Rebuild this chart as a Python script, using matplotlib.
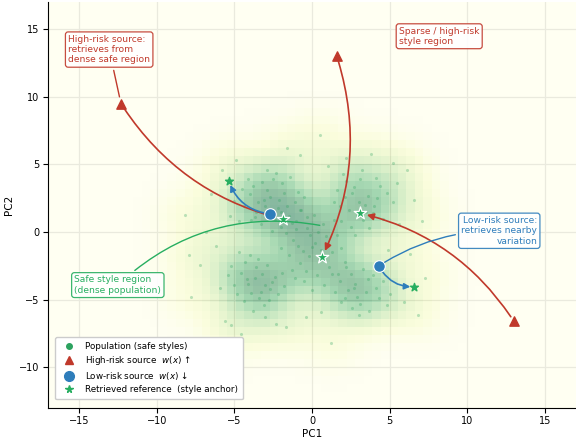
import numpy as np
import matplotlib
matplotlib.use("Agg")
import matplotlib.pyplot as plt
from matplotlib.lines import Line2D

# population (safe styles)
pop_pts = [
    # upper-left blob
    (-3.1, 2.4), (-2.2, 1.8), (-1.8, 2.9), (-3.6, 1.5), (-2.9, 3.1), (-1.5, 1.2), (-4.0, 2.8), (-2.4, 0.9),
    (-3.3, 0.6), (-1.1, 2.2), (-2.7, 2.6), (-4.4, 1.9), (-1.9, 3.6), (-3.8, 3.4), (-2.0, 0.4), (-0.8, 1.6),
    (-3.0, 1.9), (-2.5, 3.9), (-4.7, 0.8), (-1.3, 0.7), (-3.5, 2.2), (-2.1, 2.4), (-0.9, 3.0), (-4.1, 3.9),
    (-2.8, 1.2), (-1.6, 1.9), (-3.9, 0.9), (-2.3, 4.4), (-5.0, 2.3), (-1.0, 0.2), (-3.2, 3.7), (-0.5, 2.6),
    (-4.5, 3.2), (-2.6, 0.1), (-1.4, 4.1), (-3.7, 1.1), (-0.3, 1.1), (-5.3, 1.2), (-2.0, 1.5), (-2.9, 4.6),
    # lower-left blob
    (-3.2, -3.1), (-4.1, -3.8), (-3.6, -2.6), (-2.7, -4.2), (-4.6, -3.0), (-3.0, -3.9), (-3.9, -4.5), (-2.4, -3.3),
    (-4.3, -2.2), (-3.4, -4.9), (-5.0, -3.9), (-2.9, -2.4), (-3.7, -3.4), (-4.8, -4.6), (-2.2, -4.6), (-3.1, -5.4),
    (-4.0, -1.7), (-5.4, -3.2), (-2.6, -3.7), (-3.5, -2.0), (-4.4, -5.1), (-1.9, -3.0), (-3.8, -5.8), (-5.2, -2.5),
    (-2.8, -5.0), (-4.2, -3.5), (-3.3, -4.4), (-1.8, -4.0), (-4.7, -1.5), (-3.0, -6.3),
    # centre blob
    (0.2, -0.8), (-0.6, -1.4), (0.9, -0.3), (-0.3, 0.3), (0.5, -2.0), (-1.2, -0.6), (1.3, -1.5), (-0.8, -2.3),
    (0.0, -1.1), (0.7, 0.6), (-1.5, -1.7), (1.6, -0.2), (-0.4, -2.9), (0.3, -3.2), (-1.0, 0.8), (1.1, -2.6),
    (-0.1, -0.2), (1.9, -1.2), (-1.7, -0.1), (0.6, -1.3), (-0.9, -1.0), (0.1, 1.3), (1.4, 0.9), (-0.5, -3.6),
    (0.8, -3.9), (-1.3, -2.8), (2.1, -2.2), (-0.2, -1.8), (1.0, -0.9), (-2.0, -1.2), (0.4, 0.0), (-0.7, 1.6),
    (1.7, -3.1), (0.0, -4.3), (-1.1, -3.4),
    # right-upper blob
    (3.0, 2.2), (2.4, 1.6), (3.6, 2.7), (2.7, 3.3), (3.9, 1.4), (2.1, 2.6), (3.3, 0.9), (4.2, 2.5),
    (2.5, 0.4), (3.1, 3.9), (1.8, 1.9), (4.4, 3.4), (2.9, 1.2), (3.7, 0.3), (2.2, 3.8), (4.0, 1.9),
    (1.6, 3.1), (3.4, 2.0), (2.6, 2.9), (4.6, 1.0), (1.9, 0.8), (3.2, 4.6), (4.8, 2.9), (2.0, 4.3),
    (5.2, 2.2), (3.5, 1.5), (1.4, 2.2), (2.8, -0.2), (4.1, 4.0), (5.5, 3.6),
    # right-lower blob
    (2.8, -3.8), (3.5, -4.4), (2.1, -4.9), (3.9, -3.2), (2.5, -3.1), (4.3, -4.9), (3.1, -5.3), (1.8, -3.6),
    (3.7, -5.8), (2.3, -4.3), (4.6, -3.6), (2.9, -4.8), (1.5, -4.4), (3.3, -2.7), (4.1, -4.1), (2.6, -5.6),
    (5.0, -4.6), (1.9, -5.2), (3.6, -3.5), (2.2, -2.6), (4.8, -5.4), (3.0, -6.1), (1.3, -3.1), (4.4, -2.9),
    (2.7, -4.1),
    # stragglers
    (-7.8, -4.8), (-5.6, -6.6), (-5.2, -6.9), (-8.2, 1.3), (-6.5, 2.8), (-5.8, 4.6), (-6.2, -1.0), (-4.9, 5.3),
    (-1.6, 6.2), (0.5, 7.2), (-0.8, 5.7), (2.2, 5.5), (3.8, 5.8), (6.1, 4.6), (6.6, 2.4), (7.1, 0.8),
    (6.3, -1.6), (5.9, -5.2), (6.8, -6.1), (1.2, -8.2), (-1.7, -7.0), (-2.3, -6.8), (-7.2, -2.4), (5.6, 0.6),
    (0.6, -5.9), (-0.4, -6.3), (4.9, -1.3), (-6.8, 0.0), (7.3, -3.4), (-4.6, -7.5), (5.2, 5.1), (1.0, 4.9),
    (-5.9, -4.1), (-7.9, -1.7),
]
pop_x = [p[0] for p in pop_pts]
pop_y = [p[1] for p in pop_pts]

# high-risk sources and where they retrieve from
high_x = [-12.3, 1.6, 13.0]
high_y = [9.5, 13.0, -6.6]
high_ref_x = [-1.85, 0.64, 3.1]
high_ref_y = [0.96, -1.85, 1.4]
high_rad = [0.2, -0.2, 0.2]

# low-risk sources and their nearby retrievals
low_x = [-2.68, 4.3]
low_y = [1.33, -2.5]
low_ref_x = [-5.36, 6.6]
low_ref_y = [3.77, -4.05]
low_rad = [-0.3, 0.3]

RED = "#c0392b"
BLUE = "#2e7dbb"
GREEN = "#27ae60"

fig = plt.figure(figsize=(5.76, 4.41), dpi=100)
ax = fig.add_axes([0.0833, 0.075, 0.9167, 0.92])
ax.set_xlim(-17, 17)
ax.set_ylim(-13, 17)

# density background from the population (gaussian kde on a coarse grid)
gx = np.linspace(-17, 17, 63)
gy = np.linspace(-13, 17, 51)
cx = (gx[:-1] + gx[1:]) / 2
cy = (gy[:-1] + gy[1:]) / 2
XX, YY = np.meshgrid(cx, cy)
px = np.array(pop_x)
py = np.array(pop_y)
bw = 1.15
dens = np.exp(-((XX[..., None] - px) ** 2 + (YY[..., None] - py) ** 2) / (2 * bw ** 2)).sum(-1)
dens = dens ** 0.75
ax.grid(True, color="#d8d8d8", linewidth=0.9, zorder=0)
ax.set_axisbelow(True)
ax.imshow(dens, extent=(-17, 17, -13, 17), origin="lower", cmap="YlGn", alpha=0.48,
          aspect="auto", interpolation="nearest", zorder=1, vmin=0, vmax=dens.max() * 1.15)

ax.scatter(pop_x, pop_y, s=5, color="#2ca25f", alpha=0.3, linewidths=0, zorder=2)

# retrieval arrows
for i in range(3):
    ax.annotate("", xy=(high_ref_x[i], high_ref_y[i]), xytext=(high_x[i], high_y[i]),
                arrowprops=dict(arrowstyle="-|>", color=RED, lw=1.2, mutation_scale=10,
                                shrinkA=4, shrinkB=5, connectionstyle=f"arc3,rad={high_rad[i]}"),
                zorder=4)
for i in range(2):
    ax.annotate("", xy=(low_ref_x[i], low_ref_y[i]), xytext=(low_x[i], low_y[i]),
                arrowprops=dict(arrowstyle="-|>", color=BLUE, lw=1.2, mutation_scale=9,
                                shrinkA=5, shrinkB=3, connectionstyle=f"arc3,rad={low_rad[i]}"),
                zorder=4)

ax.scatter(high_x, high_y, s=45, marker="^", color=RED, zorder=5)
ax.scatter(low_x, low_y, s=70, marker="o", color=BLUE, edgecolors="white", linewidths=0.8, zorder=5)
ax.scatter(high_ref_x, high_ref_y, s=90, marker="*", color=GREEN, edgecolors="white", linewidths=0.9, zorder=6)
ax.scatter(low_ref_x, low_ref_y, s=35, marker="*", color=GREEN, zorder=6)

# callouts
fs = 6.6
ax.annotate("High-risk source:\nretrieves from\ndense safe region", xy=(high_x[0], high_y[0]),
            xytext=(-15.7, 14.6), ha="left", va="top", fontsize=fs, color=RED,
            bbox=dict(boxstyle="round,pad=0.3", fc="white", ec=RED, lw=0.9, alpha=0.9),
            arrowprops=dict(arrowstyle="-", color=RED, lw=1.0, shrinkB=5), zorder=7)
ax.text(5.6, 15.2, "Sparse / high-risk\nstyle region", ha="left", va="top", fontsize=fs, color=RED,
        bbox=dict(boxstyle="round,pad=0.3", fc="white", ec=RED, lw=0.9, alpha=0.9), zorder=7)
ax.annotate("Low-risk source:\nretrieves nearby\nvariation", xy=(low_x[1], low_y[1]),
            xytext=(14.5, 1.2), ha="right", va="top", fontsize=fs, color=BLUE, multialignment="right",
            bbox=dict(boxstyle="round,pad=0.3", fc="white", ec=BLUE, lw=0.9, alpha=0.9),
            arrowprops=dict(arrowstyle="-", color=BLUE, lw=1.0, shrinkB=5,
                            connectionstyle="arc3,rad=0.15"), zorder=7)
ax.annotate("Safe style region\n(dense population)", xy=(0.5, 0.5),
            xytext=(-15.3, -3.2), ha="left", va="top", fontsize=fs, color=GREEN,
            bbox=dict(boxstyle="round,pad=0.3", fc="white", ec=GREEN, lw=0.9, alpha=0.9),
            arrowprops=dict(arrowstyle="-", color=GREEN, lw=1.0, shrinkB=0,
                            connectionstyle="arc3,rad=-0.25"), zorder=7)

handles = [
    Line2D([], [], ls="", marker="o", ms=4, color="#2ca25f", label="Population (safe styles)"),
    Line2D([], [], ls="", marker="^", ms=6, color=RED, label="High-risk source  $w(x)$ \u2191"),
    Line2D([], [], ls="", marker="o", ms=7, color=BLUE, label="Low-risk source  $w(x)$ \u2193"),
    Line2D([], [], ls="", marker="*", ms=5.5, color=GREEN, label="Retrieved reference  (style anchor)"),
]
leg = ax.legend(handles=handles, loc="lower left", fontsize=6.3, framealpha=1.0,
                edgecolor="#cccccc", borderpad=0.6, handletextpad=0.8, labelspacing=0.35,
                bbox_to_anchor=(0.005, 0.01))
leg.set_zorder(8)

ax.spines["top"].set_visible(False)
ax.spines["right"].set_visible(False)
ax.set_xticks([-15, -10, -5, 0, 5, 10, 15])
ax.set_yticks([-10, -5, 0, 5, 10, 15])
ax.tick_params(labelsize=7, length=3.5, width=0.8, pad=2.5)
ax.set_xlabel("PC1", fontsize=7.5, labelpad=2)
ax.set_ylabel("PC2", fontsize=7.5, labelpad=4)

fig.savefig("out.png", dpi=100)
